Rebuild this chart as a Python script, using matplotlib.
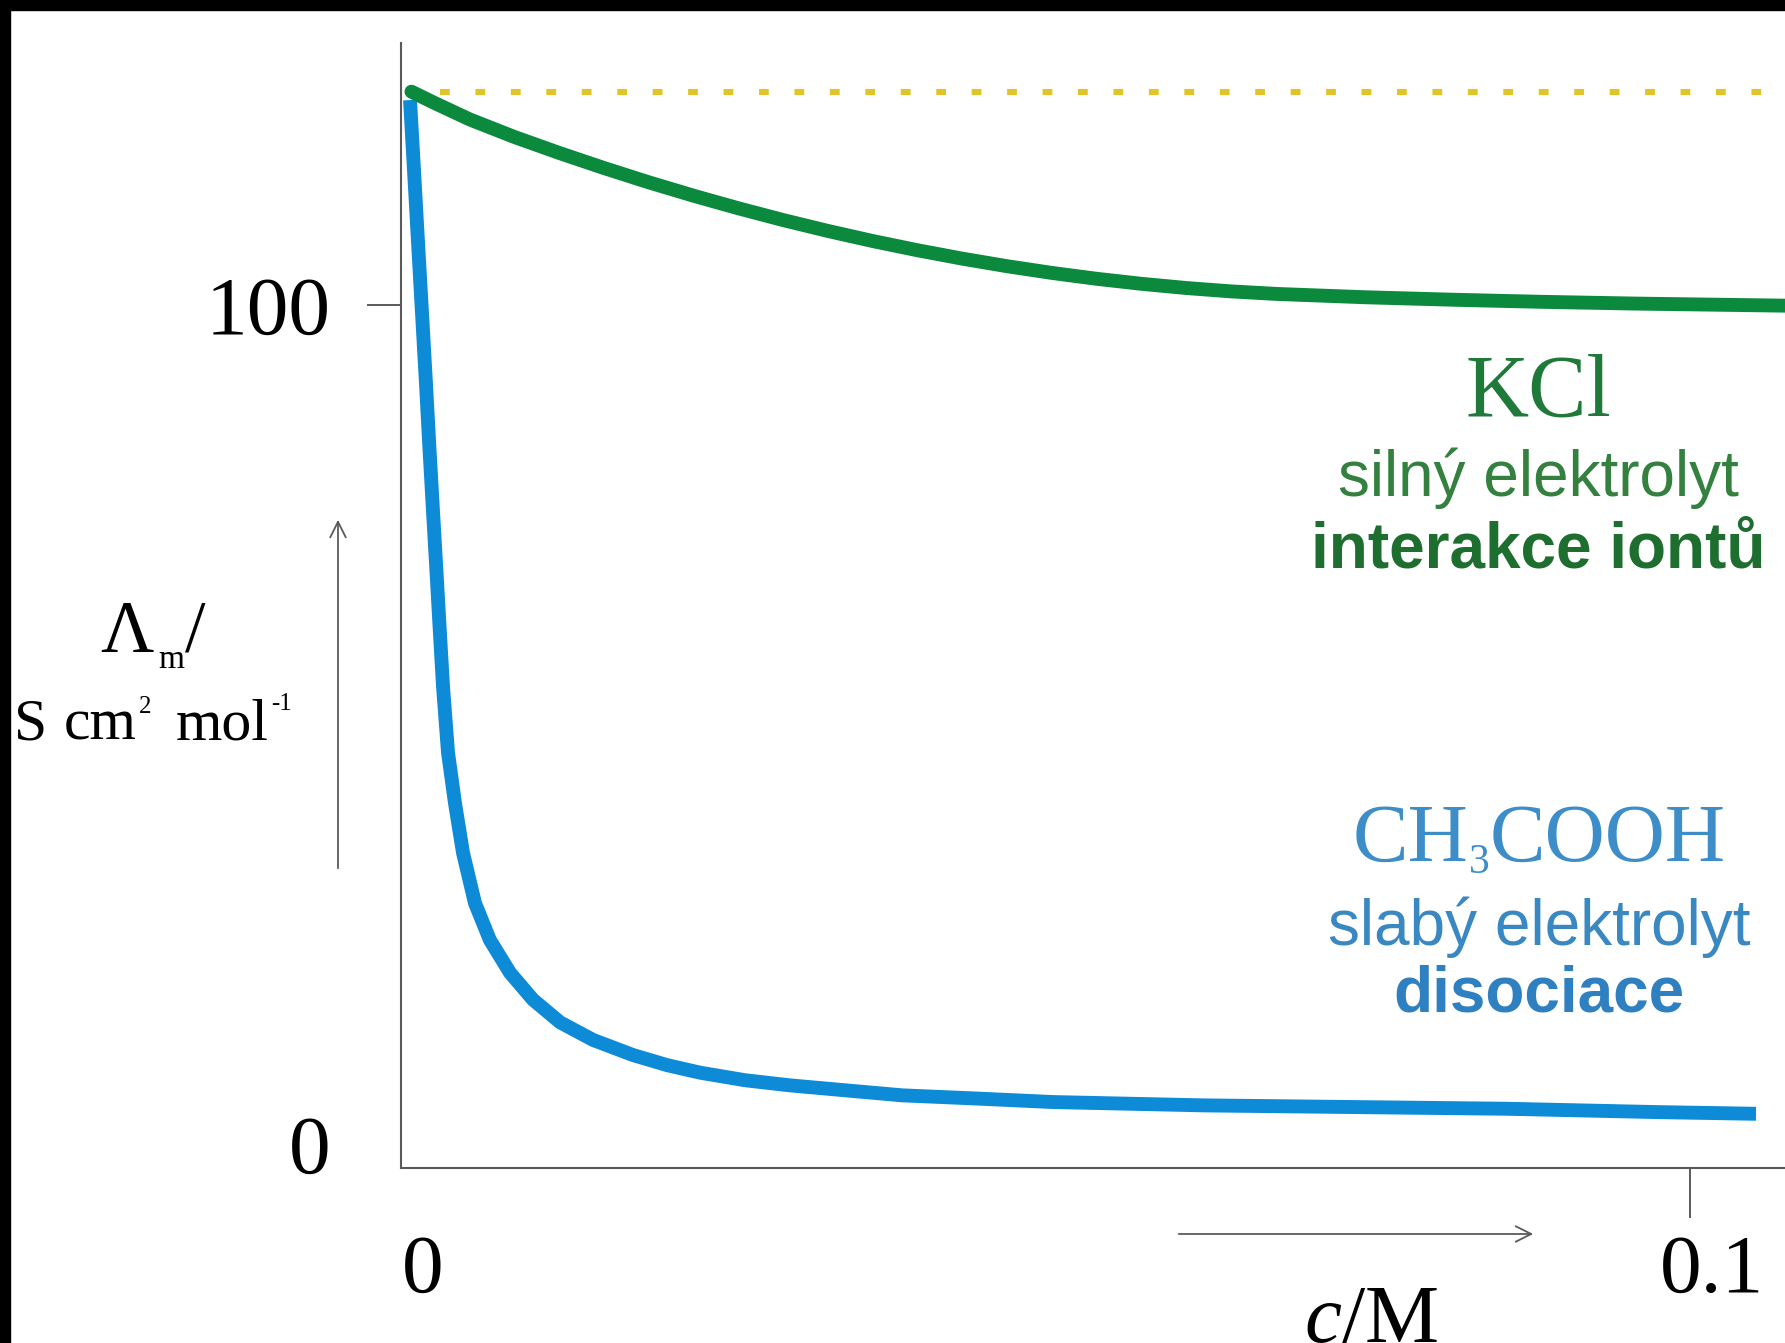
import matplotlib.pyplot as plt
from matplotlib.patches import Rectangle
from matplotlib.transforms import ScaledTranslation

plt.rcParams['font.family'] = ['Liberation Serif', 'DejaVu Serif']
plt.rcParams['mathtext.fontset'] = 'custom'
plt.rcParams['mathtext.rm'] = 'Liberation Serif'
plt.rcParams['mathtext.it'] = 'Liberation Serif:italic'

W, H, DPI = 1785, 1343, 100

# molar conductivity vs concentration (c in M, Lambda_m in S cm2 mol-1)
kcl_c = [0.00081, 0.00254, 0.00532, 0.00880, 0.01227, 0.01575, 0.01922,
         0.02270, 0.02618, 0.02965, 0.03313, 0.03660, 0.04008, 0.04355,
         0.04703, 0.05050, 0.05398, 0.05746, 0.06094, 0.06441, 0.06789,
         0.07484, 0.08179, 0.08874, 0.09570, 0.10737]
kcl_lam = [125.4, 124.1, 122.1, 120.0, 118.1, 116.3, 114.6,
           113.0, 111.5, 110.1, 108.8, 107.6, 106.5, 105.5,
           104.6, 103.8, 103.1, 102.5, 102.0, 101.6, 101.3,
           100.9, 100.6, 100.35, 100.15, 99.9]

acid_c = [0.00070, 0.00105, 0.00134, 0.00163, 0.00192, 0.00220, 0.00249,
          0.00279, 0.00296, 0.00326, 0.00365, 0.00419, 0.00481, 0.00574,
          0.00690, 0.00846, 0.01024, 0.01234, 0.01490, 0.01800, 0.02064,
          0.02320, 0.02669, 0.03010, 0.03445, 0.03887, 0.04492, 0.05058,
          0.06237, 0.07409, 0.08580, 0.09752, 0.10512]
acid_lam = [124.4, 114.9, 106.9, 99.0, 91.1, 83.1, 75.2,
            67.2, 62.5, 54.5, 46.6, 40.6, 34.7, 28.7,
            24.3, 20.4, 17.2, 14.5, 12.4, 10.6, 9.4,
            8.5, 7.6, 7.0, 6.4, 5.8, 5.4, 5.0,
            4.6, 4.4, 4.2, 3.8, 3.6]

limit_c = [0.003, 0.1074]
limit_lam = [125.4, 125.4]

xticks = [0, 0.1]
xticklabels = ['0', '0.1']
yticks = [0, 100]
yticklabels = ['0', '100']


def fx(px):
    return px / W


def fy(py):
    return 1 - py / H


fig = plt.figure(figsize=(W / DPI, H / DPI), dpi=DPI, facecolor='white')
ax = fig.add_axes([fx(401), fy(1168), (1785 - 401) / W, (1168 - 43) / H])
renderer = fig.canvas.get_renderer()

axis_col = '#5a5a5a'
green = '#0b8a3e'
blue = '#0d8bd6'

ax.plot(limit_c, limit_lam, color='#e2c428', lw=4.4, dashes=(1.6, 4.2),
        dash_capstyle='butt', zorder=1)
ax.plot(acid_c, acid_lam, color=blue, lw=10, solid_capstyle='butt',
        solid_joinstyle='round', zorder=2)
ax.plot(kcl_c, kcl_lam, color=green, lw=10, solid_capstyle='round',
        solid_joinstyle='round', zorder=3)

ax.set_xlim(0, (1785 - 401) / 12890)
ax.set_ylim(-2.86, 131.2)

for s in ['top', 'right']:
    ax.spines[s].set_visible(False)
for s in ['left', 'bottom']:
    ax.spines[s].set_color(axis_col)
    ax.spines[s].set_linewidth(1.5)

ax.set_xticks(xticks)
ax.set_xticklabels(xticklabels, fontsize=60)
ax.set_yticks(yticks)
ax.set_yticklabels(yticklabels, fontsize=60)
ax.tick_params(axis='y', length=24.5, width=1.4, color=axis_col, pad=26)
ax.tick_params(axis='x', length=36, width=1.4, color=axis_col, pad=12)
ax.yaxis.get_major_ticks()[0].tick1line.set_visible(False)
ax.xaxis.get_major_ticks()[0].tick1line.set_visible(False)
for lab in ax.get_xticklabels():
    lab.set_transform(lab.get_transform() + ScaledTranslation(0.22, 0, fig.dpi_scale_trans))


def row(pieces, x_px, base_px, align='left', **kw):
    """Lay out text pieces side by side: (text, size, raise_px, gap_after_px)."""
    items = []
    total = 0
    for s, size, rise, gap in pieces:
        t = fig.text(0, 0, s, fontsize=size, va='baseline', ha='left', **kw)
        w = t.get_window_extent(renderer).width
        items.append((t, rise, total))
        total += w + gap
    x0 = x_px - (total / 2 if align == 'center' else 0)
    for t, rise, off in items:
        t.set_position((fx(x0 + off), fy(base_px - rise)))


# axis titles
row([('Λ', 53, 0, 5), ('m', 24, -16, 1), ('/', 53, 0, 0)], 100, 652)
row([('S', 43, 0, 17), ('cm', 43, 0, 2), ('2', 18, 27, 24),
     ('mol', 43, 0, 2), ('-1', 18, 30, 0)], 14, 740)
fig.text(fx(1371), fy(1284), r'$c$/M', fontsize=60, ha='center', va='top')

# direction arrows
arrow = dict(arrowstyle='->', color=axis_col, lw=1.3, mutation_scale=28)
ax.annotate('', xy=(338, H - 517), xytext=(338, H - 871),
            xycoords='figure pixels', textcoords='figure pixels', arrowprops=arrow)
ax.annotate('', xy=(1536, H - 1234), xytext=(1176, H - 1234),
            xycoords='figure pixels', textcoords='figure pixels', arrowprops=arrow)

# curve labels
sans = ['Liberation Sans', 'DejaVu Sans']
fig.text(fx(1538), fy(416), 'KCl', fontsize=63, color='#1f7a3a',
         ha='center', va='baseline')
fig.text(fx(1538), fy(496), 'silný elektrolyt', fontsize=46, color='#33803f',
         family=sans, ha='center', va='baseline')
fig.text(fx(1538), fy(568), 'interakce iontů', fontsize=46, color='#1e6e30',
         family=sans, weight='bold', ha='center', va='baseline')
row([('CH', 60, 0, 0), ('3', 30, -12, 0), ('COOH', 60, 0, 0)], 1539, 861,
    align='center', color='#3d8dc9')
fig.text(fx(1539), fy(945), 'slabý elektrolyt', fontsize=46, color='#3a88c2',
         family=sans, ha='center', va='baseline')
fig.text(fx(1539), fy(1012), 'disociace', fontsize=46, color='#2f80c0',
         family=sans, weight='bold', ha='center', va='baseline')

# black frame strips at top and left
fig.patches.append(Rectangle((0, fy(10)), 1, 10 / H, transform=fig.transFigure,
                             color='black', zorder=10))
fig.patches.append(Rectangle((0, 0), 10 / W, 1, transform=fig.transFigure,
                             color='black', zorder=10))

fig.savefig('out.png', dpi=DPI, facecolor='white')
